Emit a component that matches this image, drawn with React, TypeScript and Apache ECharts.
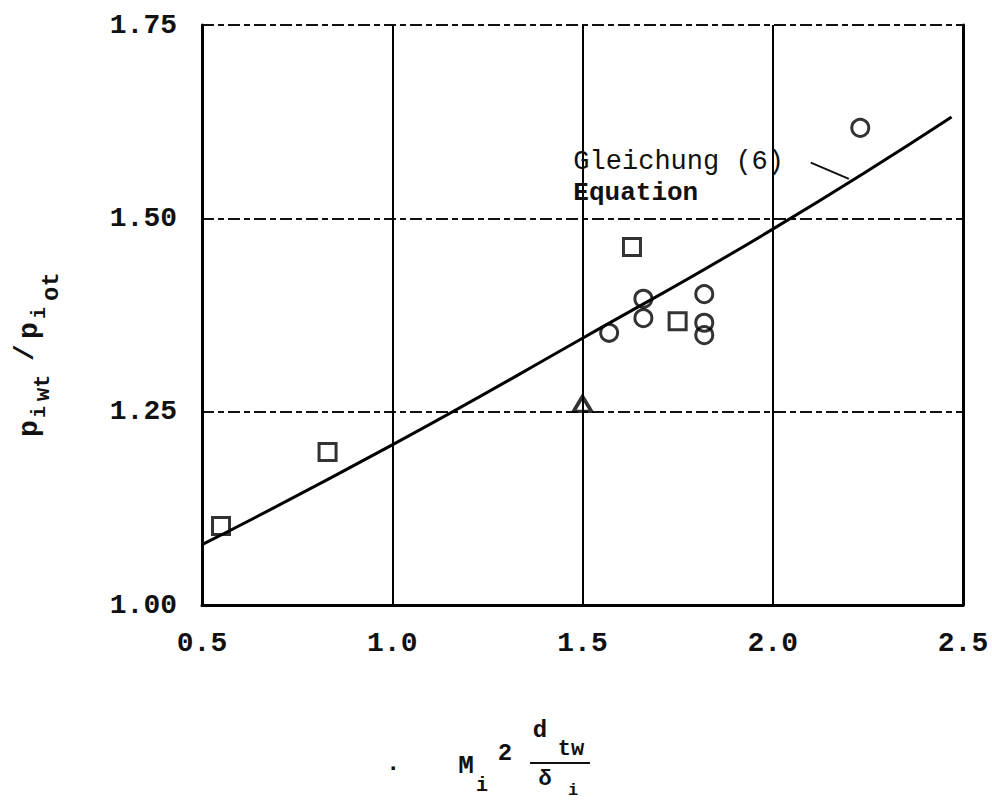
import React, { useEffect, useRef } from "react";
import * as echarts from "echarts";

// ---- data ----
const squareX = [0.55, 0.83, 1.63, 1.75];
const squareY = [1.102, 1.198, 1.463, 1.367];
const circleX = [1.57, 1.66, 1.66, 1.82, 1.82, 1.82, 2.23];
const circleY = [1.352, 1.396, 1.371, 1.402, 1.365, 1.349, 1.617];
const triangleX = [1.5];
const triangleY = [1.26];
const curveX = [0.5, 1.0, 1.5, 2.0, 2.47];
const curveY = [1.078, 1.207, 1.345, 1.486, 1.631];
const xTicks = { min: 0.5, max: 2.5, interval: 0.5 };
const yTicks = { min: 1.0, max: 1.75, interval: 0.25 };
const curveLabel = ["Gleichung (6)", "Equation"];
const labelAnchor = [1.476, 1.573];
const labelAnchor2 = [1.476, 1.533];
const leaderFrom = [2.1, 1.572];
const leaderTo = [2.2, 1.551];

const MONO = "'Liberation Mono', 'DejaVu Sans Mono', monospace";

const zip = (xs: number[], ys: number[]) => xs.map((x, i) => [x, ys[i]]);

export default function App() {
  const ref = useRef<HTMLDivElement>(null);
  useEffect(() => {
    document.body.style.margin = "0";
    document.body.style.overflow = "hidden";
    const chart = echarts.init(ref.current!, null, { renderer: "svg" });
    const hollow = { color: "rgba(0,0,0,0)", borderColor: "#000", borderWidth: 3 };
    chart.setOption({
      animation: false,
      backgroundColor: "#fff",
      grid: { left: 202, top: 25, right: 29, bottom: 196, containLabel: false },
      xAxis: {
        type: "value",
        min: xTicks.min,
        max: xTicks.max,
        interval: xTicks.interval,
        axisLine: { show: true, onZero: false, lineStyle: { color: "#000", width: 3 } },
        axisTick: { show: false },
        axisLabel: {
          margin: 24,
          color: "#111",
          fontFamily: MONO,
          fontWeight: "bold",
          fontSize: 28,
          formatter: (v: number) => v.toFixed(1),
        },
        splitLine: { show: true, lineStyle: { color: "#000", width: 2, type: "solid" } },
      },
      yAxis: [
        {
          type: "value",
          min: yTicks.min,
          max: yTicks.max,
          interval: yTicks.interval,
          axisLine: { show: true, onZero: false, lineStyle: { color: "#000", width: 3 } },
          axisTick: { show: false },
          axisLabel: {
            margin: 25,
            color: "#111",
            fontFamily: MONO,
            fontWeight: "bold",
            fontSize: 28,
            formatter: (v: number) => v.toFixed(2),
          },
          splitLine: {
            show: true,
            lineStyle: { color: "#111", width: 1.8, type: [12, 4, 6, 4] },
          },
        },
        {
          type: "value",
          position: "right",
          min: yTicks.min,
          max: yTicks.max,
          interval: yTicks.interval,
          axisLine: { show: true, onZero: false, lineStyle: { color: "#000", width: 3 } },
          axisTick: { show: false },
          axisLabel: { show: false },
          splitLine: { show: false },
        },
      ],
      series: [
        {
          type: "line",
          data: zip(curveX, curveY),
          smooth: true,
          symbol: "none",
          lineStyle: { color: "#000", width: 3 },
          z: 3,
        },
        {
          type: "scatter",
          data: zip(squareX, squareY),
          symbol: "rect",
          symbolSize: 17,
          itemStyle: hollow,
          z: 4,
        },
        {
          type: "scatter",
          data: zip(circleX, circleY),
          symbol: "circle",
          symbolSize: 17,
          itemStyle: hollow,
          z: 4,
        },
        {
          type: "scatter",
          data: zip(triangleX, triangleY),
          symbol: "triangle",
          symbolSize: [18, 15],
          itemStyle: { ...hollow, borderWidth: 3.5 },
          z: 4,
        },
      ],
    });

    const a1 = chart.convertToPixel({ gridIndex: 0 }, labelAnchor) as number[];
    const a2 = chart.convertToPixel({ gridIndex: 0 }, labelAnchor2) as number[];
    const l1 = chart.convertToPixel({ gridIndex: 0 }, leaderFrom) as number[];
    const l2 = chart.convertToPixel({ gridIndex: 0 }, leaderTo) as number[];

    const t = (text: string, x: number, y: number, size: number, extra: any = {}) => ({
      type: "text",
      x,
      y,
      style: {
        text,
        fill: "#111",
        font: `${extra.weight || "bold"} ${size}px ${MONO}`,
        textAlign: extra.align || "left",
        textVerticalAlign: "middle",
      },
    });

    chart.setOption({
      graphic: [
        t(curveLabel[0], a1[0], a1[1], 27, { weight: "normal" }),
        t(curveLabel[1], a2[0], a2[1], 26, { weight: "bold" }),
        {
          type: "line",
          shape: { x1: l1[0], y1: l1[1], x2: l2[0], y2: l2[1] },
          style: { stroke: "#111", lineWidth: 2 },
        },
        // y axis name, rotated
        {
          type: "group",
          x: 31,
          y: 437,
          rotation: Math.PI / 2,
          children: [
            t("p", 0, -2, 28),
            t("i", 19, 8, 20),
            t("wt", 36, 12, 22),
            t("/", 76, -6, 28),
            t("p", 98, -2, 28),
            t("i", 118, 8, 20),
            t("ot", 136, 20, 24),
          ],
        },
        // x axis name
        t(".", 386, 763, 24),
        t("M", 466, 766, 26, { align: "center" }),
        t("i", 482, 785, 20, { align: "center" }),
        t("2", 505, 753, 24, { align: "center" }),
        t("d", 540, 730, 24, { align: "center" }),
        t("tw", 571, 749, 22, { align: "center" }),
        {
          type: "line",
          shape: { x1: 530, y1: 763, x2: 590, y2: 763 },
          style: { stroke: "#111", lineWidth: 2 },
        },
        t("δ", 545, 779, 22, { align: "center" }),
        t("i", 573, 790, 17, { align: "center" }),
      ],
    });

    return () => chart.dispose();
  }, []);
  return <div ref={ref} style={{ width: 992, height: 801 }} />;
}
